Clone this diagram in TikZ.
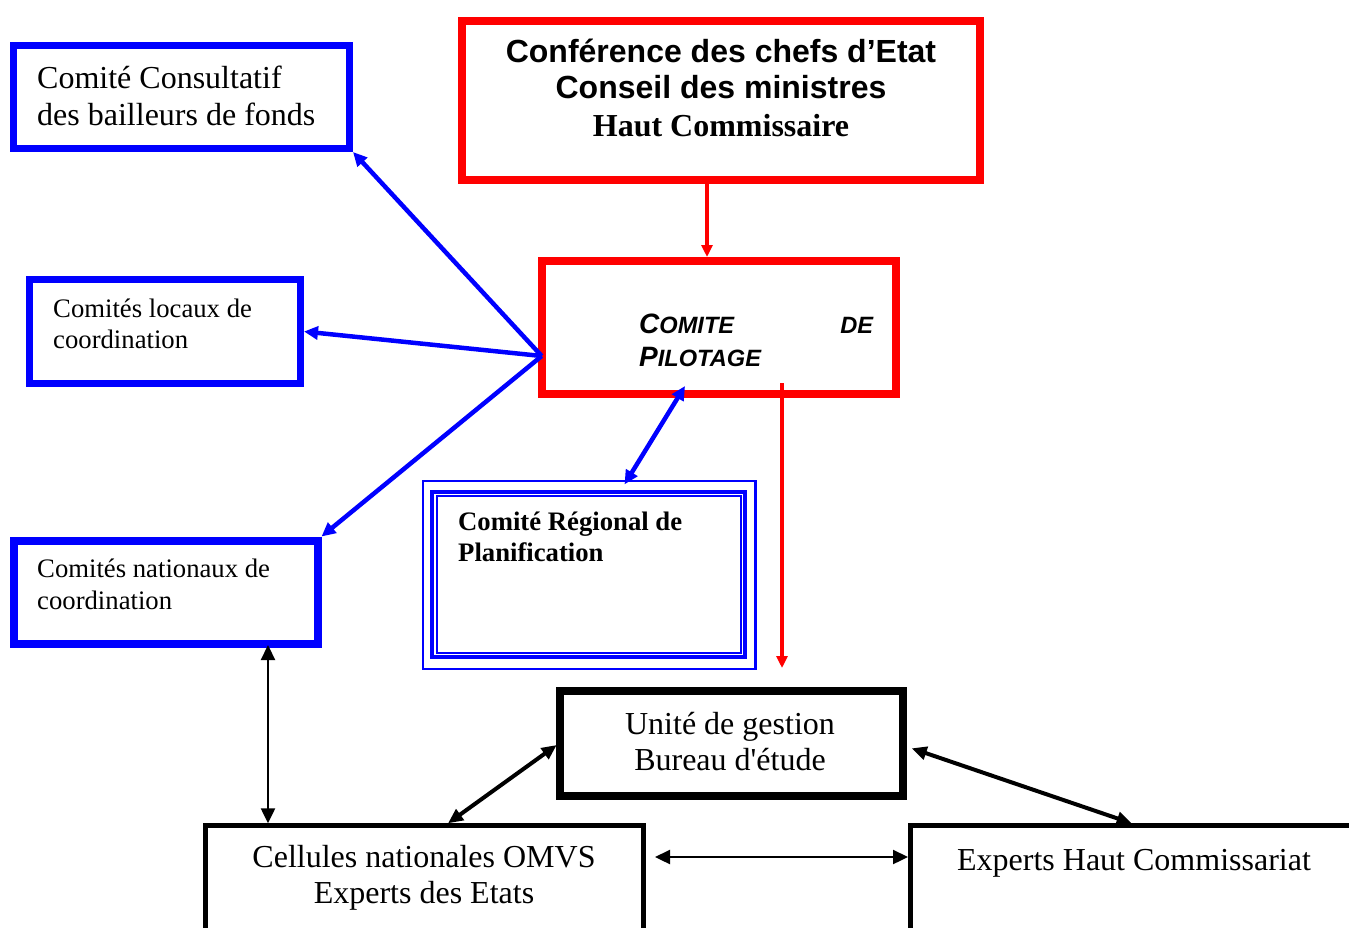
\documentclass[tikz,border=0pt]{standalone}
\usepackage{fontspec}
\setmainfont{Liberation Serif}
\newfontfamily\arialfont{Liberation Sans}
\usetikzlibrary{arrows.meta,calc}
\definecolor{pred}{RGB}{255,0,0}
\definecolor{pblue}{RGB}{0,0,255}
\begin{document}
\begin{tikzpicture}[x=1pt,y=-1pt,
  bx/.style={draw, rectangle, inner sep=0pt},
  lbl/.style={inner sep=0pt, anchor=base west},
  clbl/.style={inner sep=0pt, anchor=base},
  fbig/.style={font=\fontsize{32}{38}\selectfont},
  fsmall/.style={font=\fontsize{26.7}{31}\selectfont},
  redarrow/.style={draw=pred, line width=3.5pt, -{Triangle[length=12pt,width=11pt]}},
  bluearrow/.style={draw=pblue, line width=4.5pt, -{Triangle[length=14pt,width=13pt]}},
  bluedbl/.style={draw=pblue, line width=4.5pt, {Triangle[length=14pt,width=13pt]}-{Triangle[length=14pt,width=13pt]}},
  blkthin/.style={draw=black, line width=2.3pt, {Triangle[length=15pt,width=14pt]}-{Triangle[length=15pt,width=14pt]}},
  blkthick/.style={draw=black, line width=4pt, {Triangle[length=15pt,width=13pt]}-{Triangle[length=15pt,width=13pt]}},
]
\useasboundingbox (0,0) rectangle (1349,927);
\clip (0,0) rectangle (1349,927);
\fill[white] (0,0) rectangle (1349,927);

% boxes
\node[bx, draw=pblue, line width=7pt, minimum width=336pt, minimum height=103pt] (consult) at (181.5,97) {};
\node[bx, draw=pblue, line width=7pt, minimum width=271pt, minimum height=104pt] (locaux) at (165,331.5) {};
\node[bx, draw=pblue, line width=8pt, minimum width=303.5pt, minimum height=103pt] (nationaux) at (165.75,592) {};
\node[bx, draw=pred, line width=8pt, minimum width=518.5pt, minimum height=159pt] (top) at (720.75,100) {};
\node[bx, draw=pred, line width=8pt, minimum width=354.5pt, minimum height=133pt] (comite) at (718.75,327.5) {};
\node[bx, draw=pblue, line width=2.2pt, minimum width=332.2pt, minimum height=188pt] (regional) at (589.4,575.2) {};
\draw[pblue, line width=4.2pt] ([shift={(10,12)}]regional.north west) rectangle ([shift={(-11.5,-13.7)}]regional.south east);
\draw[pblue, line width=2.2pt] ([shift={(15,15.8)}]regional.north west) rectangle ([shift={(-15.8,-17.2)}]regional.south east);
\node[bx, draw=black, line width=8pt, minimum width=343pt, minimum height=105pt] (unite) at (731.5,743.5) {};
\node[bx, draw=black, line width=5pt, minimum width=437.2pt, minimum height=154.2pt] (cellules) at (424.4,902.9) {};
\node[bx, draw=black, line width=5pt, minimum width=509.2pt, minimum height=154.2pt] (experts) at (1165.4,902.9) {};

% texts
\node[lbl, fbig] (tc1) at (37,88) {Comité Consultatif};
\node[lbl, fbig] (tc2) at (37,125) {des bailleurs de fonds};
\node[lbl, fsmall] (tl1) at (53,317) {Comités locaux de};
\node[lbl, fsmall] (tl2) at (53,348) {coordination};
\node[lbl, fsmall] (tn1) at (37,577) {Comités nationaux de};
\node[lbl, fsmall] (tn2) at (37,609) {coordination};
\node[clbl, font=\arialfont\bfseries\fontsize{32}{38}\selectfont] (tt1) at (721,62) {Conférence des chefs d’Etat};
\node[clbl, font=\arialfont\bfseries\fontsize{32}{38}\selectfont] (tt2) at (721,98) {Conseil des ministres};
\node[clbl, font=\bfseries\fontsize{32}{38}\selectfont] (tt3) at (721,136) {Haut Commissaire};
\node[lbl, font=\arialfont\bfseries\itshape] (tp1) at (639,333) {\hbox to 234pt{{\fontsize{28}{32}\selectfont C}{\fontsize{23.6}{27}\selectfont OMITE}\hfill{\fontsize{23.6}{27}\selectfont DE}}};
\node[lbl, font=\arialfont\bfseries\itshape] (tp2) at (639,366.7) {{\fontsize{28}{32}\selectfont P}{\fontsize{23.6}{27}\selectfont ILOTAGE}};
\node[lbl, font=\bfseries\fontsize{26.7}{31}\selectfont] (tr1) at (458,530) {Comité Régional de};
\node[lbl, font=\bfseries\fontsize{26.7}{31}\selectfont] (tr2) at (458,561.5) {Planification};
\node[clbl, fbig] (tu1) at (730,734) {Unité de gestion};
\node[clbl, fbig] (tu2) at (730,770) {Bureau d\textquotesingle étude};
\node[clbl, fbig] (tce1) at (424,867) {Cellules nationales OMVS};
\node[clbl, fbig] (tce2) at (424,903) {Experts des Etats};
\node[clbl, fbig] (te1) at (1134,870) {Experts Haut Commissariat};

% connectors
\coordinate (hub) at ([shift={(4.2,28.5)}]comite.west);
\coordinate (redend) at (782,668);
\draw[redarrow] ([xshift=-13.75pt]top.south) -- ([xshift=-11.75pt]comite.north);
\draw[redarrow] ([shift={(63.25,-15)}]comite.south) -- (redend);
\draw[bluearrow] (hub) -- (consult.south east);
\draw[bluearrow] (hub) -- (locaux.east);
\draw[bluearrow] (hub) -- (nationaux.north east);
\draw[bluedbl] ([shift={(-33.75,-12)}]comite.south) -- ([shift={(35.1,4.3)}]regional.north);
\draw[blkthin] ([shift={(102.25,-2.5)}]nationaux.south) -- ([shift={(-156.4,0)}]cellules.north);
\draw[blkthick] ([shift={(0.7,1.5)}]unite.west) -- ([shift={(23.6,0)}]cellules.north);
\draw[blkthick] ([shift={(4.7,4.8)}]unite.east) -- ([shift={(-33.7,0)}]experts.north);
\draw[blkthin] ([shift={(9.5,33.7)}]cellules.north east) -- ([shift={(-0.3,33.7)}]experts.north west);
\end{tikzpicture}
\end{document}
